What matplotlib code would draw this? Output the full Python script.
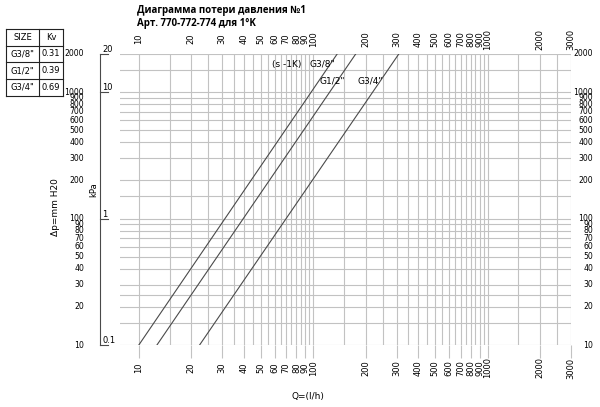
import matplotlib
matplotlib.use("Agg")
import matplotlib.pyplot as plt
from matplotlib.lines import Line2D
from matplotlib.transforms import blended_transform_factory

NARROW = ["Liberation Sans Narrow", "DejaVu Sans"]
GRID = "#c2c2c2"
INK = "#4a4a4a"

# ── data ──────────────────────────────────────────────────────────────────
sizes = ['G3/8"', 'G1/2"', 'G3/4"']
kv = ["0.31", "0.39", "0.69"]

dp_ends = [10, 2000]          # mm H2O at the two ends of each line
q_g38 = [10.0, 137]           # l/h
q_g12 = [12.7, 175]
q_g34 = [22.3, 309]

x_grid = list(range(10, 100, 5)) + list(range(100, 1000, 50)) + [1000, 1500, 2000, 2500, 3000]
x_labels = [10, 20, 30, 40, 50, 60, 70, 80, 90, 100,
            200, 300, 400, 500, 600, 700, 800, 900, 1000, 2000, 3000]
y_grid = [10, 15, 20, 25, 30, 40, 50, 60, 70, 80, 90, 100, 150,
          200, 300, 400, 500, 600, 700, 800, 900, 1000, 1500, 2000]
y_labels = [10, 20, 30, 40, 50, 60, 70, 80, 90, 100,
            200, 300, 400, 500, 600, 700, 800, 900, 1000, 2000]
kpa_ticks = [0.1, 1, 10, 20]
kpa_labels = ["0.1", "1", "10", "20"]
mm_per_kpa = 100

W, H = 600, 407


def fx(x):
    return x / W


def fy(y):
    return 1 - y / H


fig = plt.figure(figsize=(6, 4.07), dpi=100)
ax = fig.add_axes([fx(120), fy(345), fx(571) - fx(120), fy(54) - fy(345)])
ax.set_xscale("log")
ax.set_yscale("log")
ax.set_xlim(7.8, 3000)
ax.set_ylim(10, 2000)
for s in ax.spines.values():
    s.set_visible(False)

# grid
for x in x_grid:
    ax.axvline(x, color=GRID, lw=0.8, zorder=1)
for y in y_grid:
    ax.axhline(y, color=GRID, lw=0.8, zorder=1)

# tick stubs below the labelled verticals
ax.set_xticks(x_labels, labels=[])
ax.xaxis.set_minor_locator(matplotlib.ticker.NullLocator())
ax.tick_params(axis="x", which="major", bottom=True, top=False, length=9,
               width=0.8, color=GRID, direction="out")
ax.set_yticks([])
ax.yaxis.set_minor_locator(matplotlib.ticker.NullLocator())

# curves
for q in (q_g38, q_g12, q_g34):
    ax.plot(q, dp_ends, color=INK, lw=0.8, zorder=3)

# curve labels
ax.text(57.7, 1667, "(s -1K)", fontsize=6.5, family=NARROW, va="center", ha="left")
ax.text(95.3, 1667, 'G3/8"', fontsize=6.5, family=NARROW, va="center", ha="left")
ax.text(108.9, 1223, 'G1/2"', fontsize=6.5, family=NARROW, va="center", ha="left")
ax.text(180, 1223, 'G3/4"', fontsize=6.5, family=NARROW, va="center", ha="left")

# x labels top and bottom
tx = blended_transform_factory(ax.transData, fig.transFigure)
for v in x_labels:
    fig.text(v, fy(39), str(v), transform=tx, fontsize=6, family=NARROW,
             rotation=90, ha="center", va="center")
    fig.text(v, fy(368), str(v), transform=tx, fontsize=6, family=NARROW,
             rotation=90, ha="center", va="center")

# y labels left and right
ty = blended_transform_factory(fig.transFigure, ax.transData)
for v in y_labels:
    fig.text(fx(84), v, str(v), transform=ty, fontsize=5.6, family=NARROW,
             ha="right", va="center")
    fig.text(fx(593), v, str(v), transform=ty, fontsize=5.6, family=NARROW,
             ha="right", va="center")

# kPa scale
fig.add_artist(Line2D([fx(100), fx(100)], [10, 2000], transform=ty, color=INK, lw=0.8))
for v, lab in zip(kpa_ticks, kpa_labels):
    mm = v * mm_per_kpa
    fig.add_artist(Line2D([fx(100), fx(108)], [mm, mm], transform=ty, color=INK, lw=0.8))
    fig.text(fx(102.5), mm, lab, transform=ty, fontsize=6, family=NARROW,
             ha="left", va="bottom")
fig.text(fx(94), fy(190), "kPa", fontsize=6, family=NARROW, rotation=90,
         ha="center", va="center")
fig.text(fx(56), fy(207), "Δp=mm H20", fontsize=6.5, family=NARROW, rotation=90,
         ha="center", va="center")
fig.text(fx(308), fy(397), "Q=(l/h)", fontsize=6.5, family=NARROW,
         ha="center", va="center")

# title
fig.text(fx(137), fy(10), "Диаграмма потери давления №1", fontsize=7,
         family=["Open Sans", "DejaVu Sans"], weight="bold", ha="left", va="center")
fig.text(fx(137), fy(23), "Арт. 770-772-774 для 1°K", fontsize=7,
         family=["Open Sans", "DejaVu Sans"], weight="bold", ha="left", va="center")

# Kv table
tl, tm, tr = 6, 39, 63
rows = [29, 46, 62, 79, 96]
for y in rows:
    fig.add_artist(Line2D([fx(tl), fx(tr)], [fy(y), fy(y)], color="#222222", lw=0.8))
for x in (tl, tm, tr):
    fig.add_artist(Line2D([fx(x), fx(x)], [fy(rows[0]), fy(rows[-1])], color="#222222", lw=0.8))
cells = [("SIZE", "Kv")] + list(zip(sizes, kv))
for i, (a, b) in enumerate(cells):
    yc = (rows[i] + rows[i + 1]) / 2
    fig.text(fx((tl + tm) / 2), fy(yc), a, fontsize=6, family=NARROW, ha="center", va="center")
    fig.text(fx((tm + tr) / 2), fy(yc), b, fontsize=6, family=NARROW, ha="center", va="center")

fig.savefig("out.png", dpi=100)
